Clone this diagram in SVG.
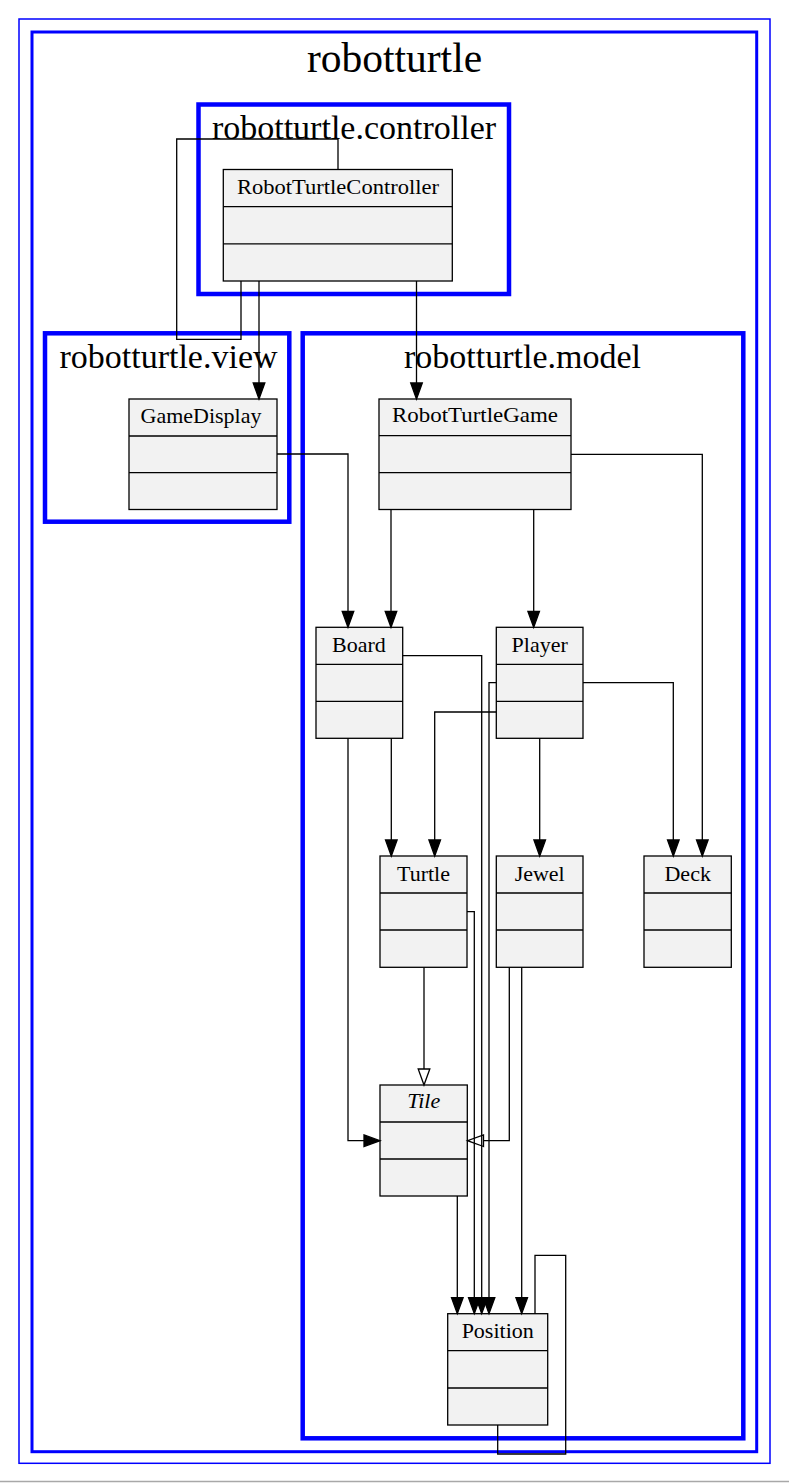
<svg xmlns="http://www.w3.org/2000/svg" width="789" height="1484" viewBox="0 0 789 1484">
<style>
.cl{fill:none;stroke:#0000ff}
.ct{font-family:"Liberation Serif","Times New Roman",serif;fill:#000;text-anchor:middle}
.box{fill:#f2f2f2;stroke:#000;stroke-width:1.3}
.sep{stroke:#000;stroke-width:1.3}
.nt{font-family:"Liberation Serif","Times New Roman",serif;font-size:22px;fill:#000;text-anchor:middle}
.e{fill:none;stroke:#000;stroke-width:1.3}
.a{marker-end:url(#fa)}
.h{marker-end:url(#ha)}
</style>
<defs>
<marker id="fa" markerUnits="userSpaceOnUse" markerWidth="20" markerHeight="16" refX="0" refY="6" orient="auto" overflow="visible">
<path d="M0,0.2 L16,6 L0,11.8 Z" fill="#000" stroke="#000" stroke-width="1.3"/>
</marker>
<marker id="ha" markerUnits="userSpaceOnUse" markerWidth="20" markerHeight="16" refX="0" refY="6" orient="auto" overflow="visible">
<path d="M0,0.2 L16,6 L0,11.8 Z" fill="#fff" stroke="#000" stroke-width="1.3"/>
</marker>
</defs>
<rect width="789" height="1484" fill="#fff"/>
<line x1="0" y1="1481.5" x2="789" y2="1481.5" stroke="#a8a8a8" stroke-width="1.5"/>

<g id="clusters">
<rect class="cl" x="19" y="19" width="751" height="1444.3" stroke-width="1.5"/>
<g id="cluster_robotturtle">
<rect class="cl" x="32" y="32" width="724.7" height="1419.7" stroke-width="3"/>
<text class="ct" x="394.5" y="71.7" font-size="41.5">robotturtle</text>
</g>
<g id="cluster_controller">
<rect class="cl" x="198.5" y="104.5" width="310.5" height="189.5" stroke-width="4.5"/>
<text class="ct" x="354" y="139" font-size="34">robotturtle.controller</text>
</g>
<g id="cluster_view">
<rect class="cl" x="45" y="333.3" width="244.3" height="188.4" stroke-width="4.5"/>
<text class="ct" x="168.5" y="368.3" font-size="34">robotturtle.view</text>
</g>
<g id="cluster_model">
<rect class="cl" x="302.7" y="333.3" width="440.6" height="1105" stroke-width="4.5"/>
<text class="ct" x="522.5" y="368.3" font-size="34">robotturtle.model</text>
</g>
</g>

<g id="nodes">
<g id="RobotTurtleController">
<rect class="box" x="223.3" y="169.5" width="229" height="111.5"/>
<line class="sep" x1="223.3" y1="206.7" x2="452.3" y2="206.7"/>
<line class="sep" x1="223.3" y1="243.9" x2="452.3" y2="243.9"/>
<text class="nt" x="338" y="194.3" textLength="202" lengthAdjust="spacingAndGlyphs">RobotTurtleController</text>
</g>
<g id="GameDisplay">
<rect class="box" x="129" y="399" width="148" height="110.5"/>
<line class="sep" x1="129" y1="436" x2="277" y2="436"/>
<line class="sep" x1="129" y1="472.7" x2="277" y2="472.7"/>
<text class="nt" x="201" y="422.7">GameDisplay</text>
</g>
<g id="RobotTurtleGame">
<rect class="box" x="379" y="399" width="192" height="110.5"/>
<line class="sep" x1="379" y1="435.7" x2="571" y2="435.7"/>
<line class="sep" x1="379" y1="472.7" x2="571" y2="472.7"/>
<text class="nt" x="475" y="421.7" textLength="166" lengthAdjust="spacingAndGlyphs">RobotTurtleGame</text>
</g>
<g id="Board">
<rect class="box" x="316" y="627.3" width="86.7" height="111"/>
<line class="sep" x1="316" y1="664.3" x2="402.7" y2="664.3"/>
<line class="sep" x1="316" y1="701.3" x2="402.7" y2="701.3"/>
<text class="nt" x="359" y="652.3">Board</text>
</g>
<g id="Player">
<rect class="box" x="496.3" y="627.3" width="86.7" height="111"/>
<line class="sep" x1="496.3" y1="664.3" x2="583" y2="664.3"/>
<line class="sep" x1="496.3" y1="701.3" x2="583" y2="701.3"/>
<text class="nt" x="539.7" y="652.3">Player</text>
</g>
<g id="Turtle">
<rect class="box" x="380" y="856" width="87" height="111.3"/>
<line class="sep" x1="380" y1="893" x2="467" y2="893"/>
<line class="sep" x1="380" y1="930" x2="467" y2="930"/>
<text class="nt" x="423.5" y="880.7">Turtle</text>
</g>
<g id="Jewel">
<rect class="box" x="496.3" y="856" width="86.7" height="111.3"/>
<line class="sep" x1="496.3" y1="893" x2="583" y2="893"/>
<line class="sep" x1="496.3" y1="930" x2="583" y2="930"/>
<text class="nt" x="539.7" y="880.7">Jewel</text>
</g>
<g id="Deck">
<rect class="box" x="644" y="856" width="87.3" height="111.3"/>
<line class="sep" x1="644" y1="893" x2="731.3" y2="893"/>
<line class="sep" x1="644" y1="930" x2="731.3" y2="930"/>
<text class="nt" x="687.7" y="880.7">Deck</text>
</g>
<g id="Tile">
<rect class="box" x="380" y="1085" width="87.3" height="111"/>
<line class="sep" x1="380" y1="1122" x2="467.3" y2="1122"/>
<line class="sep" x1="380" y1="1159" x2="467.3" y2="1159"/>
<text class="nt" x="423.7" y="1108.3" font-style="italic">Tile</text>
</g>
<g id="Position">
<rect class="box" x="447.7" y="1313.7" width="100" height="111.3"/>
<line class="sep" x1="447.7" y1="1350.7" x2="547.7" y2="1350.7"/>
<line class="sep" x1="447.7" y1="1388" x2="547.7" y2="1388"/>
<text class="nt" x="497.7" y="1337.7">Position</text>
</g>
</g>

<g id="edges">
<path class="e h" d="M509.3,967.3 V1140.7 H483.5"/>
<path class="e" d="M338,169.5 V139 H176.7 V339.3 H241 V281"/>
<path class="e a" d="M259,281 V383"/>
<path class="e a" d="M416.5,281 V383"/>
<path class="e a" d="M277,454 H348 V611.3"/>
<path class="e a" d="M391,509.5 V611.3"/>
<path class="e a" d="M533.7,509.5 V611.3"/>
<path class="e a" d="M571,454.3 H702.3 V840"/>
<path class="e a" d="M583,682.7 H673.3 V840"/>
<path class="e a" d="M539.7,738.3 V840"/>
<path class="e a" d="M496.3,712 H434.7 V840"/>
<path class="e a" d="M496.3,682.7 H489 V1297.7"/>
<path class="e a" d="M402.7,655.7 H481.7 V1297.7"/>
<path class="e a" d="M467,911.7 H474.3 V1297.7"/>
<path class="e a" d="M391.3,738.3 V840"/>
<path class="e a" d="M348,738.3 V1140.7 H364"/>
<path class="e h" d="M424,967.3 V1069"/>
<path class="e a" d="M521.7,967.3 V1297.7"/>
<path class="e a" d="M457.3,1196 V1297.7"/>
<path class="e" d="M535,1313.7 V1255.3 H565.7 V1454 H497.7 V1425"/>
</g>
</svg>
